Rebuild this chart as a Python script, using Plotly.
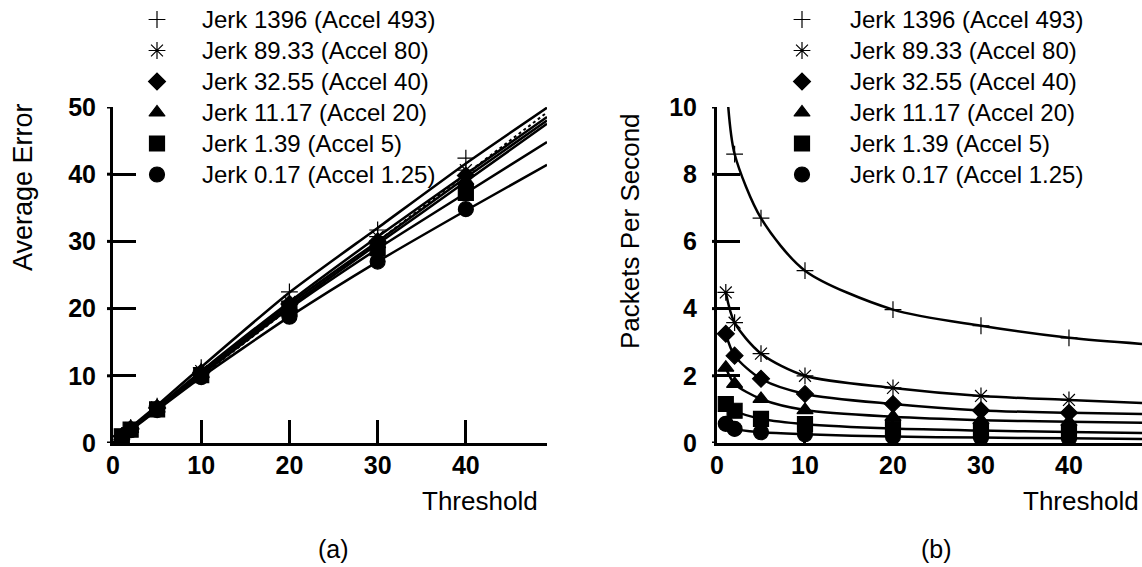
import plotly.graph_objects as go

W, H = 1142, 567

# ---------------- data ----------------
thresholds = [1, 2, 5, 10, 20, 30, 40]
series_names = [
    "Jerk 1396 (Accel 493)",
    "Jerk 89.33 (Accel 80)",
    "Jerk 32.55 (Accel 40)",
    "Jerk 11.17 (Accel 20)",
    "Jerk 1.39 (Accel 5)",
    "Jerk 0.17 (Accel 1.25)",
]

# (a) Average Error at each threshold (markers)
err_j1396 = [1.1, 2.3, 5.5, 11.2, 22.5, 31.7, 42.4]
err_j8933 = [1.0, 2.2, 5.3, 10.7, 21.0, 30.7, 40.6]
err_j3255 = [1.0, 2.1, 5.2, 10.5, 20.7, 30.0, 39.8]
err_j1117 = [1.0, 2.1, 5.1, 10.3, 20.3, 29.6, 39.0]
err_j139 = [1.0, 2.0, 5.0, 10.1, 20.0, 29.0, 37.2]
err_j017 = [0.9, 1.9, 4.9, 9.8, 18.8, 27.0, 34.8]

# (a) fitted curves
fit_a_x = [0, 1, 2, 5, 10, 20, 30, 40, 49.2]
fit_a_j1396 = [0, 1.1, 2.3, 5.6, 11.3, 22.4, 32.0, 41.6, 49.9]
fit_a_j8933 = [0, 1.0, 2.2, 5.3, 10.7, 21.0, 30.7, 40.0, 48.5]
fit_a_j3255 = [0, 1.0, 2.1, 5.2, 10.5, 20.7, 30.0, 39.5, 48.0]
fit_a_j1117 = [0, 1.0, 2.1, 5.1, 10.3, 20.3, 29.6, 38.9, 47.5]
fit_a_j139 = [0, 1.0, 2.0, 5.0, 10.1, 20.0, 28.9, 37.2, 44.8]
fit_a_j017 = [0, 0.9, 1.9, 4.9, 9.8, 18.8, 27.0, 34.6, 41.4]
ref_a_x = [0, 49.2]  # dotted y = x reference

# (b) Packets per second at each threshold (markers)
pps_j1396 = [None, 8.6, 6.69, 5.13, 3.97, 3.49, 3.13]
pps_j8933 = [4.48, 3.58, 2.66, 2.0, 1.64, 1.40, 1.28]
pps_j3255 = [3.25, 2.6, 1.91, 1.46, 1.16, 0.97, 0.9]
pps_j1117 = [2.24, 1.76, 1.31, 0.98, 0.78, 0.68, 0.63]
pps_j139 = [1.16, 0.96, 0.72, 0.56, 0.43, 0.37, 0.33]
pps_j017 = [0.57, 0.42, 0.32, 0.26, 0.19, 0.16, 0.14]

# (b) fitted curves
fit_b_x_top = [1.22, 2, 5, 10, 20, 30, 40, 48.3]
fit_b_j1396 = [10.2, 8.6, 6.69, 5.13, 3.97, 3.49, 3.13, 2.95]
fit_b_x = [1, 2, 5, 10, 20, 30, 40, 48.3]
fit_b_j8933 = [4.48, 3.58, 2.66, 2.0, 1.64, 1.40, 1.28, 1.19]
fit_b_j3255 = [3.25, 2.6, 1.91, 1.46, 1.16, 0.97, 0.9, 0.86]
fit_b_j1117 = [2.24, 1.76, 1.31, 0.98, 0.78, 0.68, 0.63, 0.6]
fit_b_j139 = [1.16, 0.96, 0.72, 0.56, 0.43, 0.37, 0.33, 0.3]
fit_b_j017 = [0.57, 0.42, 0.32, 0.26, 0.19, 0.16, 0.14, 0.12]

ticks_a_x = [0, 10, 20, 30, 40]
ticks_a_y = [0, 10, 20, 30, 40, 50]
ticks_b_x = [0, 10, 20, 30, 40]
ticks_b_y = [0, 2, 4, 6, 8, 10]

# ---------------- styling ----------------
symbols = ["cross-thin-open", "asterisk-open", "diamond", "triangle-up", "square", "circle"]
sizes = [12, 14, 13, 14, 15, 15]
FONT = "Liberation Sans, Arial, sans-serif"

err_series = [err_j1396, err_j8933, err_j3255, err_j1117, err_j139, err_j017]
fit_a = [fit_a_j1396, fit_a_j8933, fit_a_j3255, fit_a_j1117, fit_a_j139, fit_a_j017]
pps_series = [pps_j1396, pps_j8933, pps_j3255, pps_j1117, pps_j139, pps_j017]
fit_b = [fit_b_j1396, fit_b_j8933, fit_b_j3255, fit_b_j1117, fit_b_j139, fit_b_j017]

fig = go.Figure()

# dotted reference in (a)
fig.add_trace(go.Scatter(x=ref_a_x, y=ref_a_x, mode="lines", xaxis="x", yaxis="y",
                         line=dict(color="black", width=2, dash="dot"), showlegend=False,
                         hoverinfo="skip"))

for i in range(6):
    fig.add_trace(go.Scatter(x=fit_a_x, y=fit_a[i], mode="lines", xaxis="x", yaxis="y",
                             line=dict(color="black", width=2.5, shape="spline", smoothing=0.6),
                             showlegend=False, hoverinfo="skip"))
    bx = fit_b_x_top if i == 0 else fit_b_x
    fig.add_trace(go.Scatter(x=bx, y=fit_b[i], mode="lines", xaxis="x2", yaxis="y2",
                             line=dict(color="black", width=2.5, shape="spline", smoothing=0.8),
                             showlegend=False, hoverinfo="skip"))

mline = dict(color="black", width=1.2)
for i in range(6):
    fig.add_trace(go.Scatter(x=thresholds, y=err_series[i], mode="markers", name=series_names[i],
                             xaxis="x", yaxis="y", showlegend=False,
                             marker=dict(symbol=symbols[i], size=sizes[i], color="black", line=mline)))
    fig.add_trace(go.Scatter(x=thresholds, y=pps_series[i], mode="markers", name=series_names[i],
                             xaxis="x2", yaxis="y2", showlegend=False,
                             marker=dict(symbol=symbols[i], size=sizes[i], color="black", line=mline)))

# ---------------- hand-drawn legends (pixel overlay axis) ----------------
LEG_ROW0, LEG_STEP = 19.5, 31.0
legend_blocks = [(157, 200), (802, 848)]  # (marker x, text left x) in pixels
legend_rows = [LEG_ROW0 + LEG_STEP * k for k in range(len(series_names))]
annotations = []
for mx, tx in legend_blocks:
    for i, name in enumerate(series_names):
        fig.add_trace(go.Scatter(x=[mx], y=[legend_rows[i]], mode="markers", xaxis="x3", yaxis="y3",
                                 showlegend=False, hoverinfo="skip", cliponaxis=False,
                                 marker=dict(symbol=symbols[i], size=sizes[i], color="black",
                                             line=mline)))
        annotations.append(dict(text=name, x=tx / W, y=1 - legend_rows[i] / H, xanchor="left",
                                yanchor="middle", font=dict(family=FONT, size=24, color="black")))

def px_x(p):
    return p / W

def px_y(p):
    return 1 - p / H

ydom = [px_y(443), px_y(107)]
axis_common = dict(showline=True, linecolor="black", linewidth=3, ticks="inside", ticklen=23,
                   tickwidth=3, tickcolor="black", showgrid=False, zeroline=False,
                   automargin=False,
                   tickfont=dict(family=FONT, size=25, color="black", weight="bold"),
                   tickmode="array")

fig.update_layout(
    template="none",
    width=W, height=H, margin=dict(l=0, r=0, t=0, b=0, pad=0), autosize=False,
    paper_bgcolor="white", plot_bgcolor="rgba(0,0,0,0)",
    font=dict(family=FONT, color="black"),
    showlegend=False,
    xaxis=dict(domain=[px_x(113), px_x(547)], range=[0, 49.2], anchor="y",
               tickvals=ticks_a_x, ticklabelstandoff=-2, **axis_common),
    yaxis=dict(domain=ydom, range=[0, 50], anchor="x",
               tickvals=ticks_a_y, ticklabelstandoff=9, **axis_common),
    xaxis2=dict(domain=[px_x(717), 1.0], range=[0, 48.3], anchor="y2",
                tickvals=ticks_b_x, ticklabelstandoff=-2, **axis_common),
    yaxis2=dict(domain=ydom, range=[0, 10], anchor="x2",
                tickvals=ticks_b_y, ticklabelstandoff=12, **axis_common),
    xaxis3=dict(domain=[0, 1], range=[0, W], visible=False, fixedrange=True, automargin=False,
                anchor="y3"),
    yaxis3=dict(domain=[0, 1], range=[H, 0], visible=False, fixedrange=True, automargin=False,
                anchor="x3"),
)

# outside stubs of the y ticks (ticks cross the axis)
shapes = []
for v in ticks_a_y:
    shapes.append(dict(type="line", xref="x domain", yref="y", x0=-6 / 434, x1=0, y0=v, y1=v,
                       line=dict(color="black", width=3)))
for v in ticks_b_y:
    shapes.append(dict(type="line", xref="x2 domain", yref="y2", x0=-5 / 425, x1=0, y0=v, y1=v,
                       line=dict(color="black", width=3)))
fig.update_layout(shapes=shapes)

def ann(text, x, y, size, angle=0):
    return dict(text=text, x=px_x(x), y=px_y(y), textangle=angle, xanchor="center",
                yanchor="middle", font=dict(family=FONT, size=size, color="black"))

annotations += [
    ann("Threshold", 480, 501, 26),
    ann("Threshold", 1081, 501, 26),
    ann("(a)", 333, 549, 25),
    ann("(b)", 936, 549, 25),
    ann("Average Error", 23, 187, 27, -90),
    ann("Packets Per Second", 630, 231, 26, -90),
]
for a in annotations:
    a.update(xref="paper", yref="paper", showarrow=False)
fig.update_layout(annotations=annotations)

fig.write_html("out.html")
